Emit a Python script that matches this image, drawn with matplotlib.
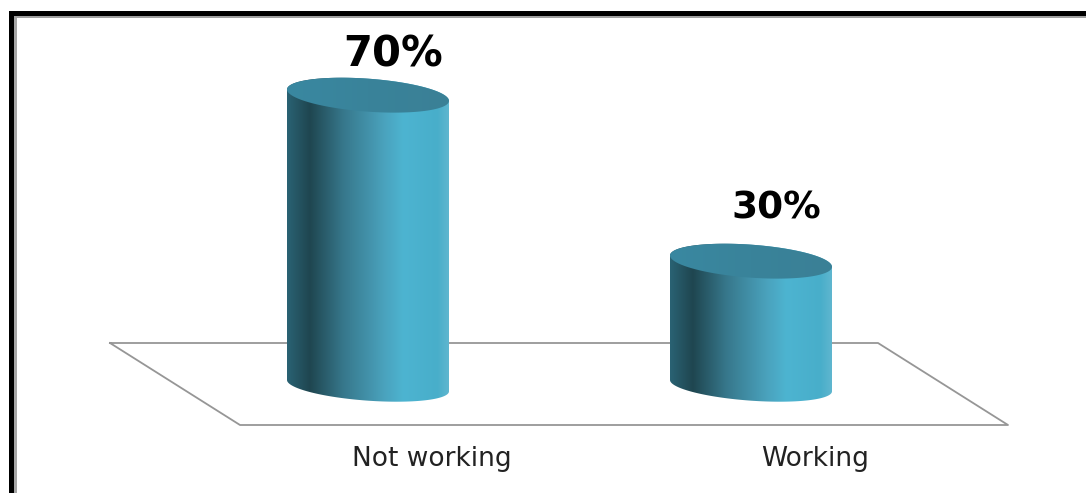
import numpy as np
import matplotlib
matplotlib.use("Agg")
import matplotlib.pyplot as plt
from matplotlib.colors import LinearSegmentedColormap
from matplotlib.patches import Polygon
from matplotlib.transforms import ScaledTranslation

categories = ["Not working", "Working"]
values = [70, 30]
value_labels = ["70%", "30%"]

W, H = 1086, 493
FLOOR_FRONT = 425   # pixel row where the floor's front edge sits
BASE = 380          # pixel row of value 0 at the left edge of a cylinder
PX_PER_CAT = 383
PX_PER_PCT = 4.15
LEFT_CENTER = 368

body_cmap = LinearSegmentedColormap.from_list("body", [
    (0.00, "#2a6273"), (0.14, "#1f4650"), (0.35, "#37788c"),
    (0.60, "#4aa2bd"), (0.72, "#4db4d1"), (0.93, "#48aeca"), (1.00, "#5fb6cf")])
top_cmap = LinearSegmentedColormap.from_list("top", ["#3a88a1", "#39839a", "#3b8096"])

fig = plt.figure(figsize=(W / 100, H / 100), dpi=100, facecolor="white")

# frame and floor, in pixel coordinates
bg = fig.add_axes([0, 0, 1, 1])
bg.set_xlim(0, W)
bg.set_ylim(H, 0)
bg.axis("off")
bg.fill_between([9, 13.5], 11, H, color="black", lw=0)
bg.fill_between([13.5, 16.5], 15.5, H, color="#a6a6a6", lw=0)
bg.fill_between([9, W], 11, 15.5, color="black", lw=0)
bg.fill_between([13.5, W], 15.5, 17.5, color="#a0a0a0", lw=0)
bg.plot([110, 878, 1008, 240, 110], [343, 343, 425, 425, 343], color="#969696", lw=1.3)

ax = fig.add_axes([0, (H - FLOOR_FRONT) / H, 1, FLOOR_FRONT / H])
ax.patch.set_alpha(0)
for s in ax.spines.values():
    s.set_visible(False)


def ellipse(xc, yc, t, b_px):
    # sheared ellipse: the right side drops lower than the left
    a = 81 / PX_PER_CAT
    x = xc + a * np.cos(t)
    y = yc - (0.07 * 81 * np.cos(t) + b_px * np.sin(t)) / PX_PER_PCT
    return x, y


def gradient(cmap, patch, x0, x1, y0, y1, z):
    img = ax.imshow(np.linspace(0, 1, 256)[None, :], cmap=cmap, aspect="auto",
                    extent=(x0, x1, y0, y1), zorder=z, interpolation="bilinear")
    ax.add_patch(patch)
    patch.set_visible(False)
    img.set_clip_path(patch)


tilt = 0.07 * 81 / PX_PER_PCT
half = 81 / PX_PER_CAT
for i, v in enumerate(values):
    t_low = np.linspace(np.pi, 0, 80)
    t_up = np.linspace(0, np.pi, 80)
    bx, by = ellipse(i, -tilt, t_low, 15)
    ux, uy = ellipse(i, v - tilt, t_up, -16.5)
    body = Polygon(np.column_stack([np.r_[bx, ux], np.r_[by, uy]]), closed=True)
    gradient(body_cmap, body, i - half, i + half, -30, v + 10, 3)

    tt = np.linspace(0, 2 * np.pi, 160)
    ex, ey = ellipse(i, v - tilt, tt, 16.5)
    top = Polygon(np.column_stack([ex, ey]), closed=True)
    gradient(top_cmap, top, i - half, i + half, v - 15, v + 15, 4)

ax.set_xlim(-LEFT_CENTER / PX_PER_CAT, (W - LEFT_CENTER) / PX_PER_CAT)
ax.set_ylim((BASE - FLOOR_FRONT) / PX_PER_PCT, BASE / PX_PER_PCT)
ax.set_yticks([])
ax.set_xticks(range(len(categories)), categories)
ax.tick_params(axis="x", length=0, pad=15, labelsize=19, labelcolor="#222222")
shift = ScaledTranslation(64 / 100, 0, fig.dpi_scale_trans)
for lab in ax.get_xticklabels():
    lab.set_transform(lab.get_transform() + shift)

label_sizes = [30, 27]
label_rise = [23, 37]
for i, v in enumerate(values):
    ax.annotate(value_labels[i], xy=(i, v), xytext=(25, label_rise[i]),
                textcoords="offset pixels", ha="center", va="baseline",
                fontsize=label_sizes[i], fontweight="bold", color="black", zorder=5)

fig.savefig("out.png", dpi=100, facecolor="white")
